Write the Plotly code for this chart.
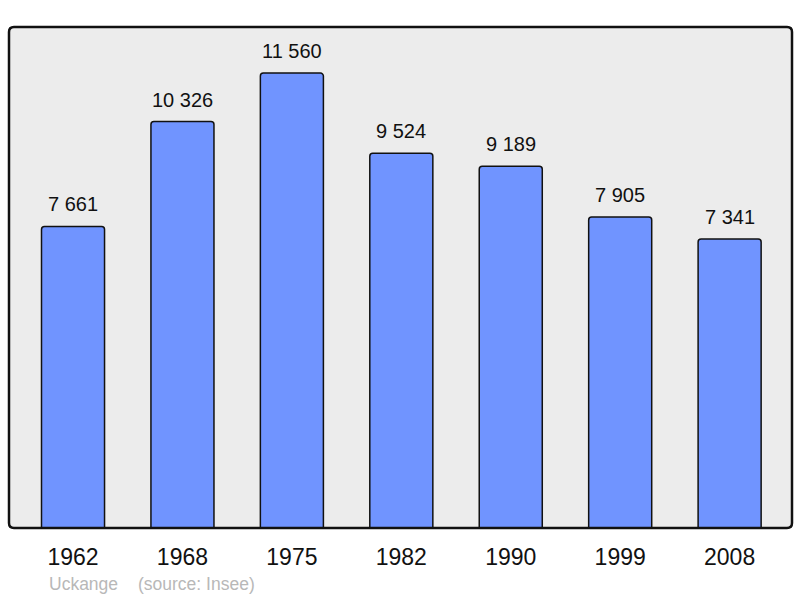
import plotly.graph_objects as go

years = ["1962", "1968", "1975", "1982", "1990", "1999", "2008"]
population = [7661, 10326, 11560, 9524, 9189, 7905, 7341]
town = "Uckange"
source = "(source: Insee)"

def fmt(v):
    return f"{v:,}".replace(",", " ")

W, H = 800, 598
PX0, PX1, PY0, PY1 = 9, 792, 27, 528  # plot area in page pixels
L, R, T, B = PX0, W - PX1, PY0, H - PY1

FONT = "Liberation Sans, Arial, sans-serif"

fig = go.Figure()
fig.add_trace(go.Bar(
    x=list(range(len(years))), y=population,
    width=0.576,
    marker=dict(color="#7094ff", line=dict(color="#111111", width=1.5), cornerradius=3),
    hoverinfo="skip",
))

annotations = []
for i, v in enumerate(population):
    annotations.append(dict(x=i, y=v, xref="x", yref="y", text=fmt(v), showarrow=False,
                            yanchor="bottom", yshift=9,
                            font=dict(family=FONT, size=20, color="#111111")))
fy = (PY1 - 584) / (PY1 - PY0)
for txt, px in [(town, 47), (source, 136)]:
    annotations.append(dict(x=(px - PX0) / (PX1 - PX0), y=fy, xref="paper", yref="paper", text=txt,
                            showarrow=False, xanchor="left", yanchor="middle",
                            font=dict(family=FONT, size=17.5, color="#b8b8b8")))

# rounded frame around plot area (paper coords)
rx = 5 / (PX1 - PX0)
ry = 5 / (PY1 - PY0)
frame = (f"M {rx},0 L {1-rx},0 Q 1,0 1,{ry} L 1,{1-ry} Q 1,1 {1-rx},1 "
         f"L {rx},1 Q 0,1 0,{1-ry} L 0,{ry} Q 0,0 {rx},0 Z")

fig.update_layout(
    width=W, height=H,
    margin=dict(l=L, r=R, t=T, b=B, autoexpand=False),
    paper_bgcolor="white", plot_bgcolor="#ececec",
    showlegend=False,
    xaxis=dict(range=[-0.585, 6.57], tickmode="array", tickvals=list(range(len(years))), ticktext=years,
               showgrid=False, zeroline=False, showline=False, ticks="", ticklen=0,
               ticklabelstandoff=13,
               tickfont=dict(family=FONT, size=23, color="#111111")),
    yaxis=dict(range=[0, 12730], showgrid=False, zeroline=False, showticklabels=False, showline=False),
    annotations=annotations,
    shapes=[dict(type="path", xref="paper", yref="paper", path=frame,
                 line=dict(color="#111111", width=2.5), layer="above")],
)
fig.write_html("out.html", config={"displayModeBar": False},
               post_script="document.body.style.margin='0';document.body.style.overflow='hidden';")
